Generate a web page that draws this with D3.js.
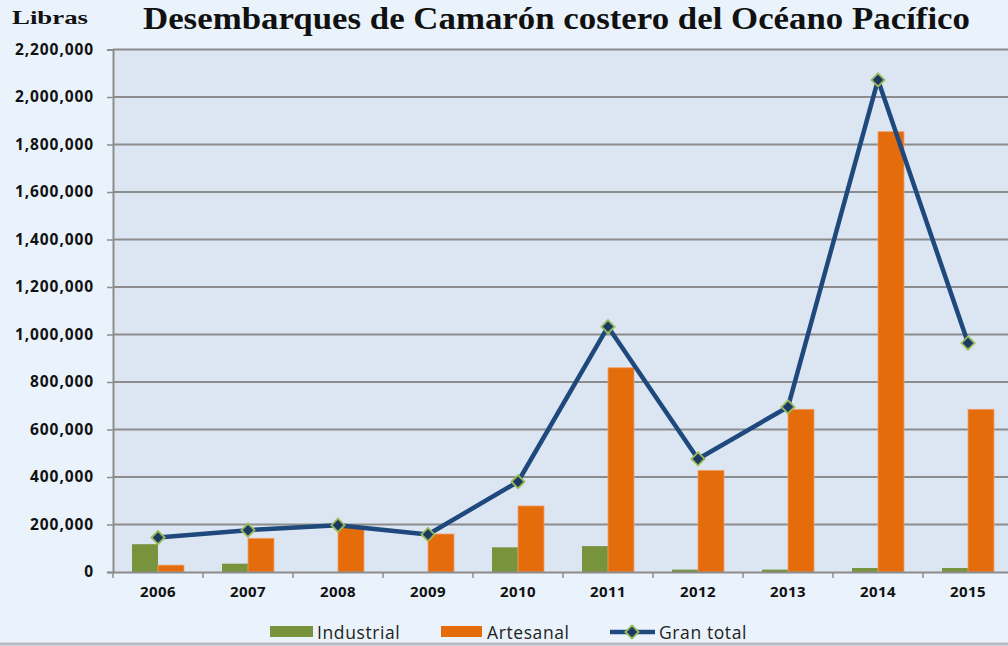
<!DOCTYPE html>
<html><head><meta charset="utf-8">
<script src="https://cdn.jsdelivr.net/npm/d3@7"></script>
<style>body{margin:0;background:#eaf3fc;}svg{display:block;}</style>
</head><body><svg id="c" width="1008" height="646"></svg>
<script>
const years = ["2006","2007","2008","2009","2010","2011","2012","2013","2014","2015"];
const industrial = [117000, 35000, 0, 0, 104000, 109000, 10000, 10000, 17000, 17000];
const artesanal = [29000, 142000, 188000, 160000, 278000, 860000, 428000, 685000, 1854000, 685000];
const granTotal = [145000, 176000, 197000, 158000, 380000, 1033000, 476000, 695000, 2072000, 964000];
const yTicks = [0,200000,400000,600000,800000,1000000,1200000,1400000,1600000,1800000,2000000,2200000];

const svg = d3.select("#c");
const L=113, R=1013, T=49.5, B=572;
const x = d3.scaleBand().domain(years).range([L,R]).padding(0);
const y = d3.scaleLinear().domain([0,2200000]).range([B,T]);

svg.append("rect").attr("width",1008).attr("height",646).attr("fill","#eaf3fc");
svg.append("rect").attr("x",L).attr("y",T).attr("width",R-L).attr("height",B-T).attr("fill","#dce6f2");

// gridlines
svg.append("g").selectAll("line").data(yTicks.filter(d=>d>0)).join("line")
  .attr("x1",L).attr("x2",R).attr("y1",d=>y(d)).attr("y2",d=>y(d))
  .attr("stroke","#8c8c8c").attr("stroke-width",2);

// y axis
const ya = svg.append("g").attr("transform",`translate(${L},0)`)
  .call(d3.axisLeft(y).tickValues(yTicks).tickSize(6).tickPadding(13).tickFormat(d3.format(",")));
ya.select(".domain").attr("stroke","#8c8c8c").attr("stroke-width",2);
ya.selectAll(".tick line").attr("stroke","#8c8c8c").attr("stroke-width",1.5);
ya.selectAll("text").attr("font-family","'Open Sans', sans-serif").attr("font-weight","bold")
  .attr("font-size",15.5).attr("letter-spacing",0.9).attr("fill","#111");

// bars
const bw = 26;
svg.append("g").selectAll("rect").data(years).join("rect")
  .attr("x",d=>x(d)+x.bandwidth()/2-bw).attr("width",bw)
  .attr("y",(d,i)=>y(industrial[i])).attr("height",(d,i)=>B-y(industrial[i]))
  .attr("fill","#77933c");
svg.append("g").selectAll("rect").data(years).join("rect")
  .attr("x",d=>x(d)+x.bandwidth()/2).attr("width",bw)
  .attr("y",(d,i)=>y(artesanal[i])).attr("height",(d,i)=>B-y(artesanal[i]))
  .attr("fill","#e46c0a").attr("stroke","#f0a070").attr("stroke-width",0.8);

// x axis
const xa = svg.append("g").attr("transform",`translate(0,${B})`)
  .call(d3.axisBottom(x).tickSize(0).tickPadding(14));
xa.select(".domain").attr("stroke","#8c8c8c").attr("stroke-width",2);
xa.selectAll("text").attr("font-family","'Open Sans', sans-serif").attr("font-weight","bold")
  .attr("font-size",15).attr("letter-spacing",0.4).attr("fill","#111");
svg.append("g").selectAll("line").data(years).join("line")
  .attr("x1",d=>x(d)).attr("x2",d=>x(d)).attr("y1",B).attr("y2",B+6)
  .attr("stroke","#8c8c8c").attr("stroke-width",1.5);

// line
const cx = d=>x(d)+x.bandwidth()/2;
svg.append("path").datum(years)
  .attr("d",d3.line().x(d=>cx(d)).y((d,i)=>y(granTotal[i])))
  .attr("fill","none").attr("stroke","#1f497d").attr("stroke-width",4.5).attr("stroke-linejoin","round");
const diamond = d3.symbol().type(d3.symbolDiamond2).size(110);
svg.append("g").selectAll("path").data(years).join("path")
  .attr("d",diamond())
  .attr("transform",(d,i)=>`translate(${cx(d)},${y(granTotal[i])})`)
  .attr("fill","#1c3a63").attr("stroke","#9bbb59").attr("stroke-width",1.8);

// title
svg.append("text").attr("x",143).attr("y",29).attr("textLength",827).attr("lengthAdjust","spacingAndGlyphs")
  .attr("font-family","'Liberation Serif', serif").attr("font-weight","bold").attr("font-size",31).attr("fill","#111")
  .text("Desembarques de Camarón costero del Océano Pacífico");
svg.append("text").attr("x",12).attr("y",24).attr("textLength",76).attr("lengthAdjust","spacingAndGlyphs")
  .attr("font-family","'Liberation Serif', serif").attr("font-weight","bold").attr("font-size",19).attr("fill","#111")
  .text("Libras");

// legend
const lg = svg.append("g").attr("font-family","'Open Sans', 'Noto Sans', sans-serif").attr("font-size",17.5).attr("fill","#222");
lg.append("rect").attr("x",270).attr("y",626).attr("width",43).attr("height",11).attr("fill","#77933c");
lg.append("text").attr("x",317).attr("y",639).attr("letter-spacing",0.6).text("Industrial");
lg.append("rect").attr("x",441).attr("y",626).attr("width",41).attr("height",11).attr("fill","#e46c0a");
lg.append("text").attr("x",487).attr("y",639).attr("letter-spacing",0.6).text("Artesanal");
lg.append("line").attr("x1",610).attr("x2",655).attr("y1",632).attr("y2",632).attr("stroke","#1f497d").attr("stroke-width",4.5);
lg.append("path").attr("d",diamond()).attr("transform","translate(632,632)")
  .attr("fill","#1c3a63").attr("stroke","#9bbb59").attr("stroke-width",1.8);
lg.append("text").attr("x",659).attr("y",639).attr("letter-spacing",0.6).text("Gran total");

svg.append("line").attr("x1",0).attr("x2",1008).attr("y1",644).attr("y2",644).attr("stroke","#b8bcc2").attr("stroke-width",3);
</script></body></html>
